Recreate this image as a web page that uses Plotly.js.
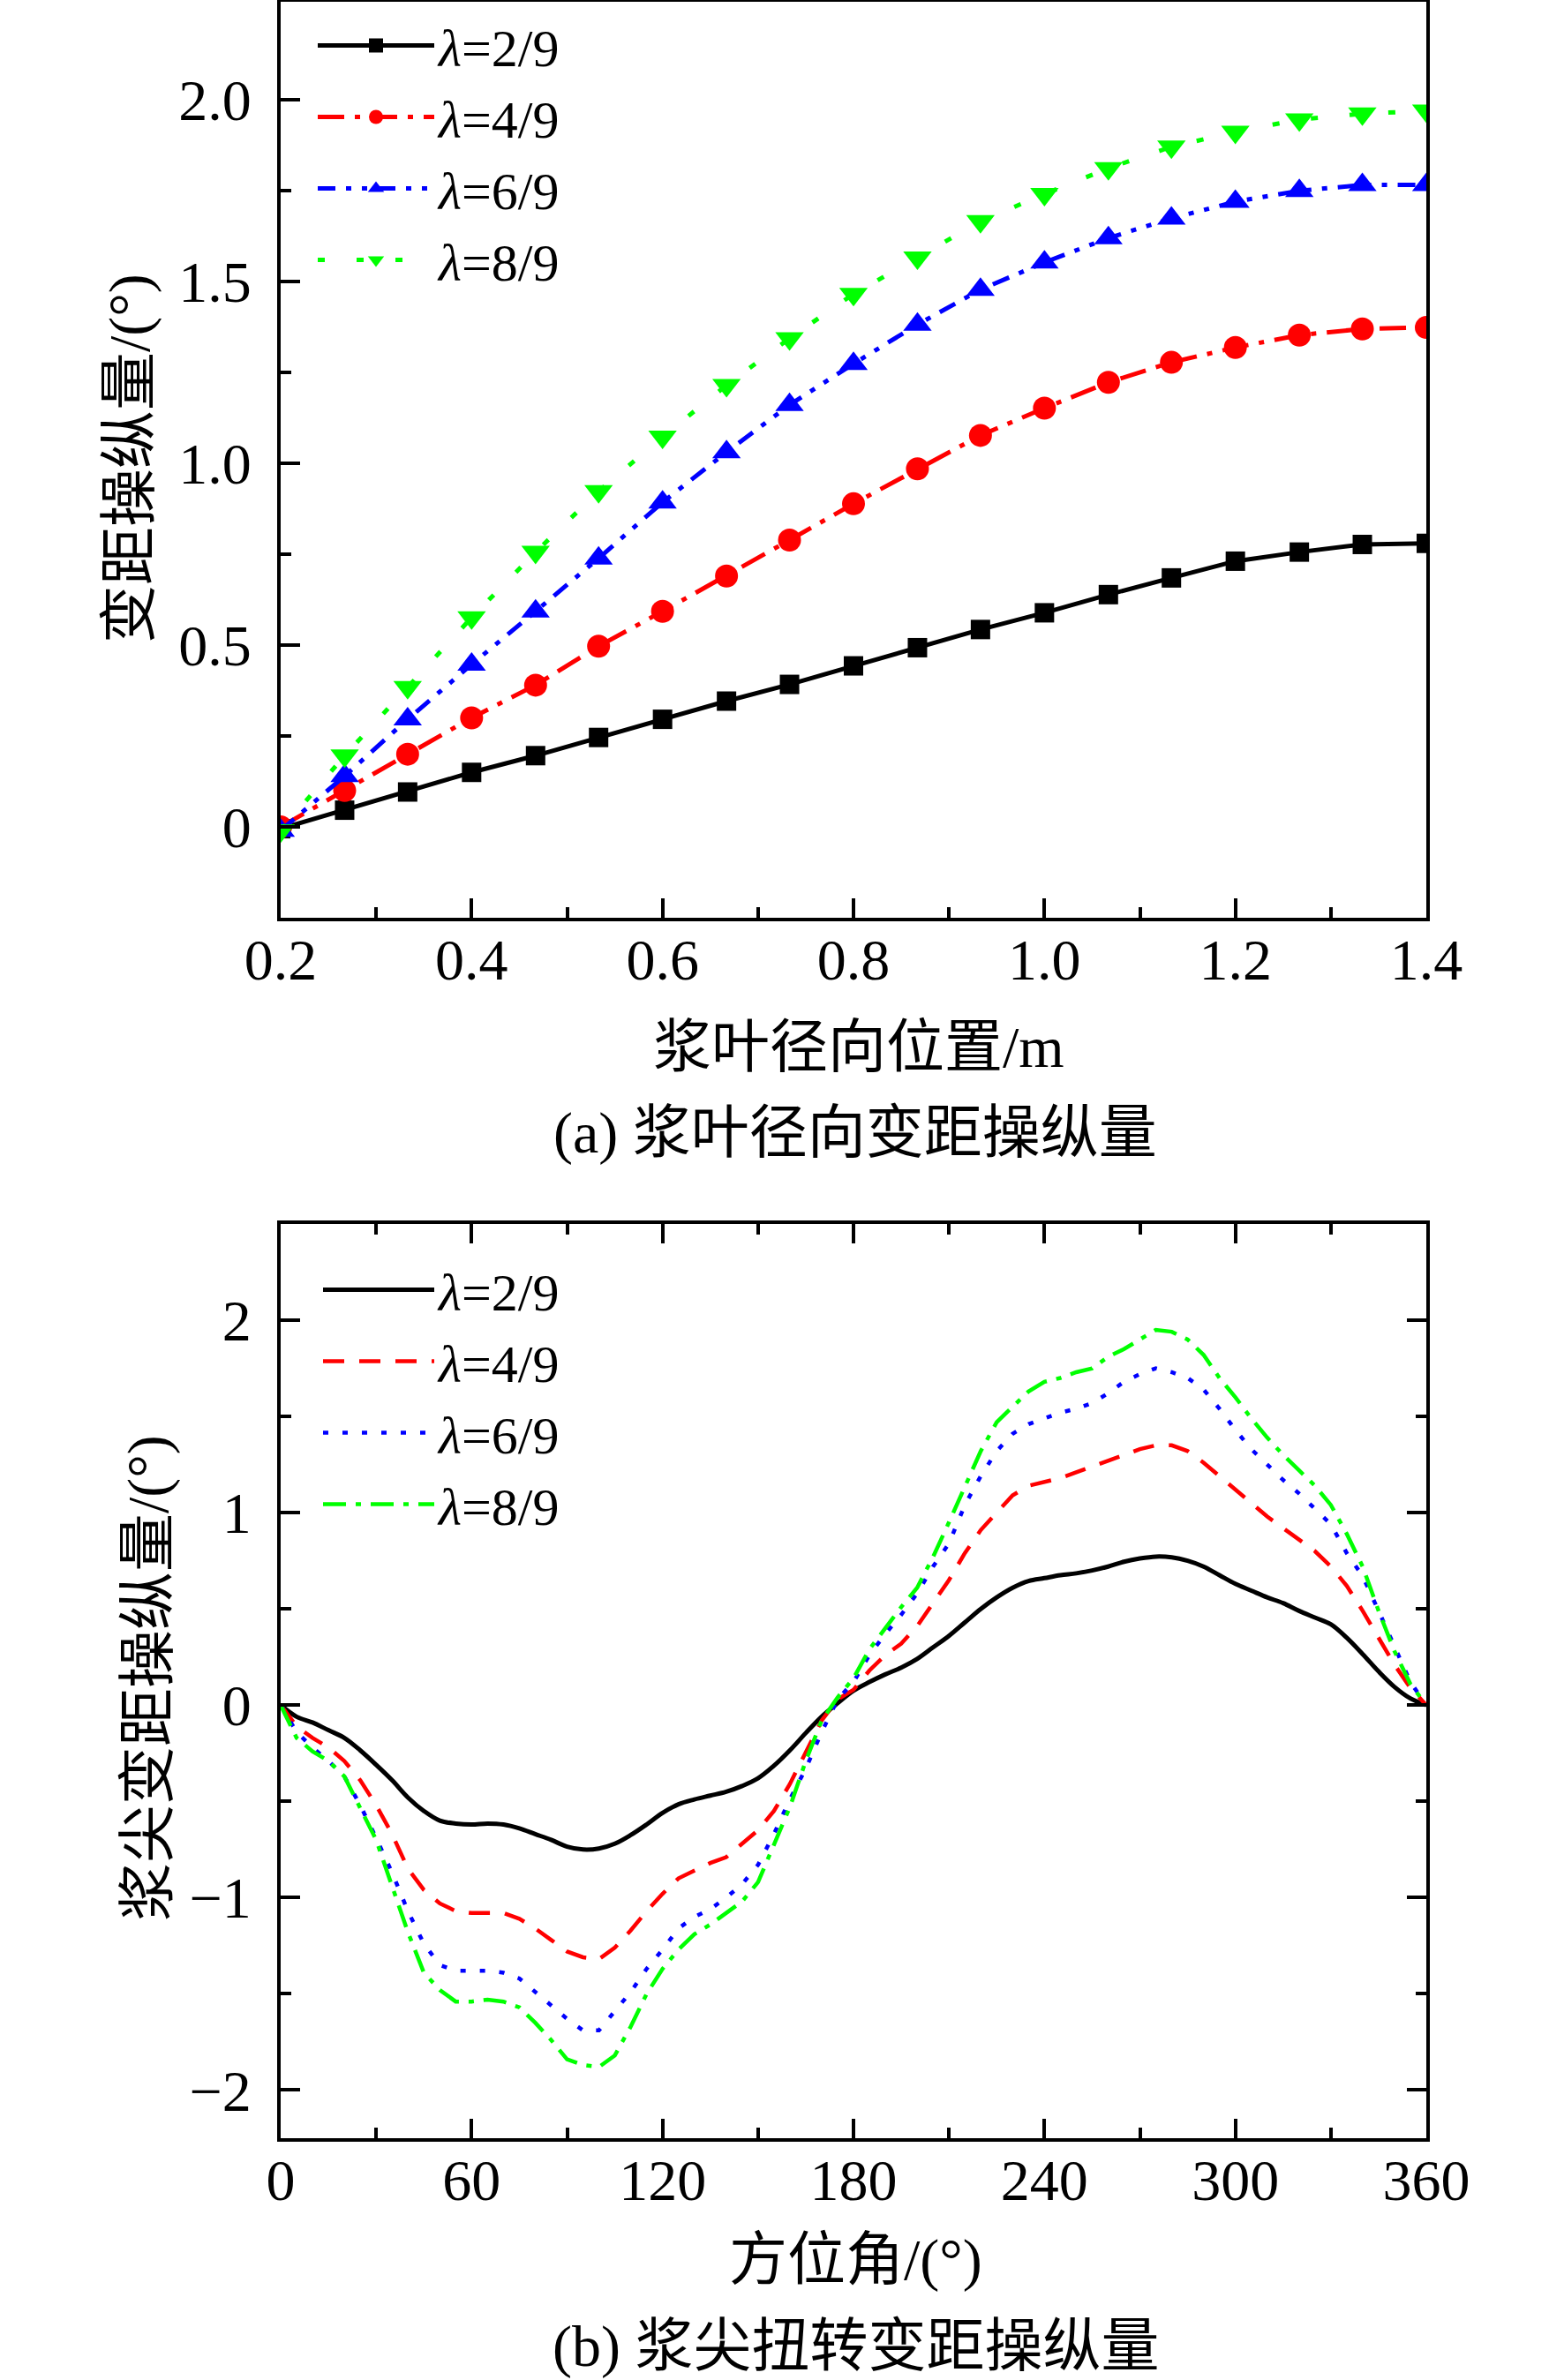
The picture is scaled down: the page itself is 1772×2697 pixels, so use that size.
<!DOCTYPE html>
<html>
<head>
<meta charset="utf-8">
<script src="https://cdn.plot.ly/plotly-3.0.1.min.js"></script>
<style>
  html, body { margin: 0; padding: 0; background: #fff; overflow: hidden; }
  #chart { width: 1772px; height: 2697px; }
</style>
</head>
<body>
<div id="chart"></div>
<script>
// (a) radial position along the blade, m
const radius = [0.2, 0.267, 0.333, 0.4, 0.467, 0.533, 0.6, 0.667, 0.733, 0.8,
                0.867, 0.933, 1.0, 1.067, 1.133, 1.2, 1.267, 1.333, 1.4];
const pitchL2 = [-0.005, 0.046, 0.096, 0.15, 0.196, 0.246, 0.296, 0.346, 0.392, 0.443,
                 0.493, 0.543, 0.589, 0.639, 0.685, 0.731, 0.756, 0.777, 0.78];
const pitchL4 = [0, 0.1, 0.2, 0.3, 0.39, 0.497, 0.593, 0.69, 0.789, 0.889,
                 0.985, 1.077, 1.152, 1.223, 1.278, 1.319, 1.353, 1.37, 1.374];
const pitchL6 = [-0.01, 0.14, 0.296, 0.447, 0.593, 0.739, 0.893, 1.031, 1.161, 1.274,
                 1.382, 1.478, 1.553, 1.62, 1.674, 1.72, 1.75, 1.766, 1.766];
const pitchL8 = [-0.01, 0.196, 0.384, 0.576, 0.756, 0.923, 1.073, 1.215, 1.344, 1.466,
                 1.566, 1.666, 1.741, 1.812, 1.871, 1.912, 1.946, 1.962, 1.97];

// (b) azimuth angle, deg
const azimuth = [0, 5, 10, 15, 20, 25, 30, 35, 40, 45, 50, 55, 60, 65, 70, 75, 80, 85, 90,
                 95, 100, 105, 110, 115, 120, 125, 130, 135, 140, 145, 150, 155, 160, 165, 170, 175, 180,
                 185, 190, 195, 200, 205, 210, 215, 220, 225, 230, 235, 240, 245, 250, 255, 260, 265, 270,
                 275, 280, 285, 290, 295, 300, 305, 310, 315, 320, 325, 330, 335, 340, 345, 350, 355, 360];
const tipL2 = [0, -0.06, -0.09, -0.13, -0.17, -0.235, -0.31, -0.39, -0.48, -0.55, -0.6, -0.615, -0.62,
               -0.615, -0.62, -0.64, -0.67, -0.7, -0.735, -0.75, -0.745, -0.72, -0.675, -0.62, -0.56,
               -0.515, -0.49, -0.47, -0.45, -0.42, -0.38, -0.315, -0.235, -0.145, -0.06, 0.01, 0.075,
               0.12, 0.16, 0.195, 0.24, 0.3, 0.36, 0.43, 0.5, 0.56, 0.61, 0.645, 0.66, 0.675, 0.685,
               0.7, 0.72, 0.745, 0.762, 0.772, 0.768, 0.75, 0.72, 0.675, 0.63, 0.595, 0.56, 0.53, 0.49,
               0.455, 0.42, 0.35, 0.265, 0.175, 0.095, 0.035, 0];
const tipL4 = [0, -0.11, -0.17, -0.22, -0.29, -0.39, -0.52, -0.67, -0.85, -0.96, -1.03, -1.07, -1.08,
               -1.08, -1.08, -1.11, -1.16, -1.22, -1.28, -1.31, -1.32, -1.26, -1.17, -1.07, -0.98,
               -0.9, -0.86, -0.82, -0.79, -0.72, -0.65, -0.55, -0.41, -0.245, -0.08, 0.03, 0.08,
               0.18, 0.26, 0.32, 0.41, 0.53, 0.65, 0.79, 0.91, 1.0, 1.09, 1.14, 1.16, 1.18, 1.21,
               1.24, 1.27, 1.3, 1.33, 1.35, 1.35, 1.32, 1.26, 1.19, 1.12, 1.05, 0.98, 0.92, 0.86,
               0.8, 0.72, 0.62, 0.49, 0.35, 0.21, 0.09, 0];
const tipL6 = [0, -0.14, -0.22, -0.29, -0.37, -0.52, -0.69, -0.87, -1.07, -1.24, -1.35, -1.38, -1.38,
               -1.38, -1.39, -1.42, -1.49, -1.56, -1.63, -1.69, -1.69, -1.59, -1.49, -1.37, -1.27,
               -1.16, -1.1, -1.06, -1.0, -0.93, -0.83, -0.67, -0.49, -0.33, -0.14, 0.03, 0.12,
               0.26, 0.37, 0.47, 0.58, 0.72, 0.84, 1.04, 1.19, 1.32, 1.41, 1.46, 1.49, 1.52, 1.54,
               1.57, 1.62, 1.68, 1.72, 1.75, 1.73, 1.7, 1.64, 1.54, 1.43, 1.33, 1.25, 1.17, 1.1,
               1.02, 0.94, 0.79, 0.67, 0.49, 0.31, 0.12, 0];
const tipL8 = [0, -0.17, -0.24, -0.29, -0.37, -0.53, -0.7, -0.94, -1.18, -1.39, -1.48, -1.54, -1.54,
               -1.53, -1.54, -1.57, -1.65, -1.74, -1.84, -1.87, -1.88, -1.82, -1.67, -1.5, -1.37,
               -1.27, -1.19, -1.14, -1.08, -1.02, -0.92, -0.73, -0.53, -0.29, -0.08, 0.04, 0.14,
               0.29, 0.4, 0.51, 0.61, 0.77, 0.95, 1.14, 1.32, 1.47, 1.55, 1.63, 1.68, 1.7, 1.73,
               1.75, 1.81, 1.85, 1.9, 1.95, 1.94, 1.9, 1.82, 1.7, 1.6, 1.49, 1.39, 1.3, 1.22,
               1.14, 1.04, 0.89, 0.72, 0.49, 0.28, 0.11, 0];

const seriesNames = ['<i>λ</i>=2/9', '<i>λ</i>=4/9', '<i>λ</i>=6/9', '<i>λ</i>=8/9'];
const colors = ['#000000', '#ff0000', '#0000ff', '#00ff00'];
const topDashes = ['solid', '30px,12px,6px,12px', '20px,12px,6px,12px,6px,12px', '8px,36px'];
const botDashes = ['solid', '24px,17px', '6px,16px', '26px,11px,6px,11px'];
const symbols = ['square', 'circle', 'triangle-up', 'triangle-down'];
const symbolSizes = [22, 26, 28, 28];

const W = 1772, H = 2697;
const px = v => v / W;
const py = v => 1 - v / H;
const serif = 'Liberation Serif, Noto Sans CJK SC, serif';

const topY = [pitchL2, pitchL4, pitchL6, pitchL8];
const botY = [tipL2, tipL4, tipL6, tipL8];

const traces = [];
topY.forEach((ys, i) => traces.push({
  x: radius, y: ys, type: 'scatter', mode: 'lines+markers', name: seriesNames[i],
  xaxis: 'x', yaxis: 'y', legend: 'legend',
  line: { color: colors[i], width: 5, dash: topDashes[i] },
  marker: { symbol: symbols[i], size: symbolSizes[i], color: colors[i] }
}));
botY.forEach((ys, i) => traces.push({
  x: azimuth, y: ys, type: 'scatter', mode: 'lines', name: seriesNames[i],
  xaxis: 'x2', yaxis: 'y2', legend: 'legend2',
  line: { color: colors[i], width: i === 0 ? 5 : 4.5, dash: botDashes[i],
          shape: i === 0 ? 'spline' : 'linear', smoothing: 1 }
}));

const axisBase = {
  showline: true, linecolor: '#000', linewidth: 4,
  ticks: 'inside', ticklen: 22, tickwidth: 4, tickcolor: '#000',
  showgrid: false, zeroline: false,
  tickfont: { family: serif, size: 66, color: '#000' }
};
const minorBase = { ticks: 'inside', ticklen: 12, tickwidth: 4, tickcolor: '#000', showgrid: false };

const legendBase = {
  xanchor: 'left', yanchor: 'top', bgcolor: 'rgba(0,0,0,0)',
  font: { family: serif, size: 60, color: '#000' }, tracegroupgap: 0
};

const note = (text, x, y, angle) => ({
  text: text, x: px(x), y: py(y), xref: 'paper', yref: 'paper',
  xanchor: 'center', yanchor: 'middle', textangle: angle || 0,
  showarrow: false, font: { family: serif, size: 66, color: '#000' }
});

const layout = {
  width: W, height: H,
  margin: { l: 0, r: 0, t: 0, b: 0 },
  paper_bgcolor: '#fff', plot_bgcolor: '#fff',
  showlegend: true,
  xaxis: Object.assign({}, axisBase, {
    domain: [px(318), px(1616)], anchor: 'y', range: [0.2, 1.4], mirror: true,
    ticklabelstandoff: -13,
    tickmode: 'array', tickvals: [0.2, 0.4, 0.6, 0.8, 1.0, 1.2, 1.4],
    ticktext: ['0.2', '0.4', '0.6', '0.8', '1.0', '1.2', '1.4'],
    minor: Object.assign({}, minorBase, { tickmode: 'array', tickvals: [0.3, 0.5, 0.7, 0.9, 1.1, 1.3] })
  }),
  yaxis: Object.assign({}, axisBase, {
    domain: [py(1040), py(2)], anchor: 'x', range: [-0.25, 2.27], mirror: true,
    ticklabelstandoff: 16,
    tickmode: 'array', tickvals: [0, 0.5, 1.0, 1.5, 2.0],
    ticktext: ['0', '0.5', '1.0', '1.5', '2.0'],
    minor: Object.assign({}, minorBase, { tickmode: 'array', tickvals: [0.25, 0.75, 1.25, 1.75] })
  }),
  xaxis2: Object.assign({}, axisBase, {
    domain: [px(318), px(1616)], anchor: 'y2', range: [0, 360], mirror: 'allticks',
    ticklabelstandoff: -13,
    tickmode: 'array', tickvals: [0, 60, 120, 180, 240, 300, 360],
    ticktext: ['0', '60', '120', '180', '240', '300', '360'],
    minor: Object.assign({}, minorBase, { tickmode: 'array', tickvals: [30, 90, 150, 210, 270, 330] })
  }),
  yaxis2: Object.assign({}, axisBase, {
    domain: [py(2423), py(1387)], anchor: 'x2', range: [-2.25, 2.5], mirror: 'allticks',
    ticklabelstandoff: 16,
    tickmode: 'array', tickvals: [-2, -1, 0, 1, 2],
    ticktext: ['\u22122', '\u22121', '0', '1', '2'],
    minor: Object.assign({}, minorBase, { tickmode: 'array', tickvals: [-1.5, -0.5, 0.5, 1.5] })
  }),
  legend: Object.assign({}, legendBase, { x: px(355), y: py(6), itemwidth: 132 }),
  legend2: Object.assign({}, legendBase, { x: px(361), y: py(1416), itemwidth: 126 }),
  annotations: [
    note('浆叶径向位置/m', 973, 1186),
    note('(a) 浆叶径向变距操纵量', 969, 1284),
    note('变距操纵量/(°)', 147, 520, -90),
    note('方位角/(°)', 969, 2561),
    note('(b) 浆尖扭转变距操纵量', 969, 2659),
    note('浆尖变距操纵量/(°)', 168, 1902, -90)
  ]
};

Plotly.newPlot('chart', traces, layout, { staticPlot: true });
</script>
</body>
</html>
